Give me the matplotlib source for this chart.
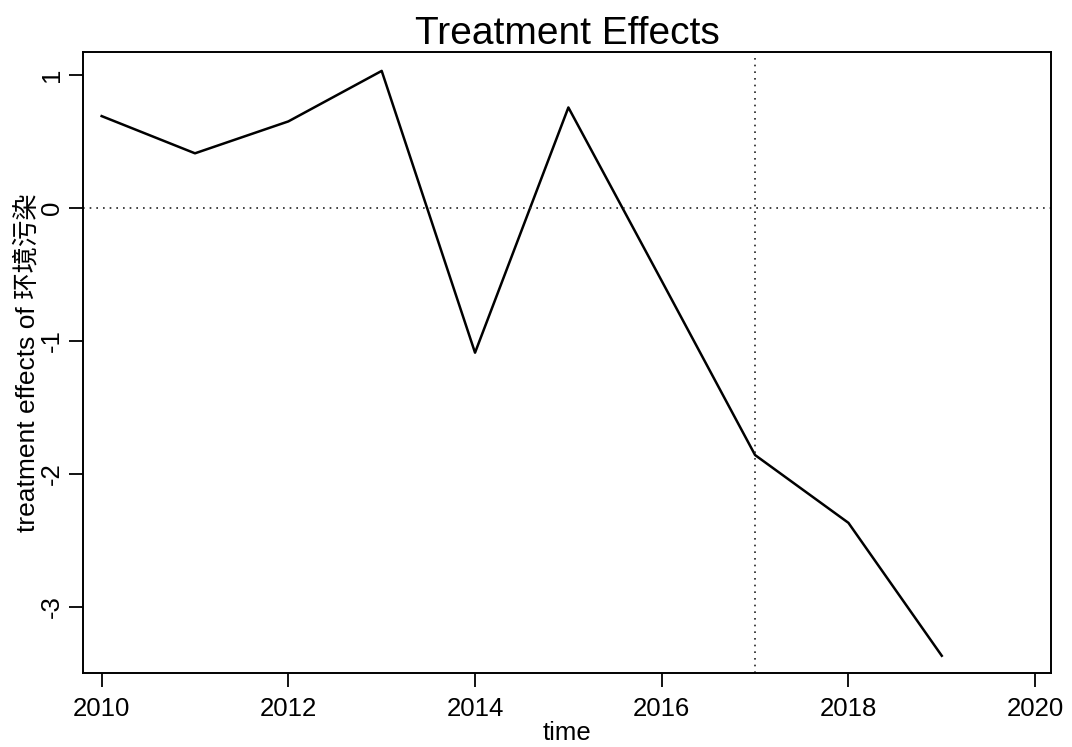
import matplotlib
matplotlib.use('Agg')
import matplotlib.pyplot as plt

plt.rcParams['font.family'] = ['Liberation Sans', 'Noto Sans CJK SC', 'DejaVu Sans']

# data
years = [2010, 2011, 2012, 2013, 2014, 2015, 2016, 2017, 2018, 2019]
effects = [0.69, 0.41, 0.65, 1.03, -1.09, 0.755, -0.55, -1.86, -2.37, -3.37]
x_ticks = [2010, 2012, 2014, 2016, 2018, 2020]
y_ticks = [-3, -2, -1, 0, 1]
treat_year = 2017

fig = plt.figure(figsize=(10.72, 7.47), dpi=100)
ax = fig.add_axes([0.0774, 0.099, 0.903, 0.831])

ax.plot(years, effects, color='black', lw=1.8)
ax.axhline(0, color='#222222', lw=1.2, ls=(0, (1, 3)))
ax.axvline(treat_year, color='#222222', lw=1.2, ls=(0, (1, 3)))

ax.set_xlim(2009.8, 2020.17)
ax.set_ylim(-3.5, 1.17)
ax.set_xticks(x_ticks)
ax.set_yticks(y_ticks)
ax.set_yticklabels([str(v) for v in y_ticks], rotation=90, va='center')

for s in ax.spines.values():
	s.set_linewidth(1.4)
ax.tick_params(direction='out', length=10, width=1.3, labelsize=18.5, pad=7)
ax.tick_params(axis='y', pad=4)

ax.set_title('Treatment Effects', fontsize=28, pad=6)
ax.set_xlabel('time', fontsize=18.5, labelpad=0)
ax.set_ylabel('treatment effects of 环境污染', fontsize=19, labelpad=0)

fig.savefig('out.png', dpi=100)
